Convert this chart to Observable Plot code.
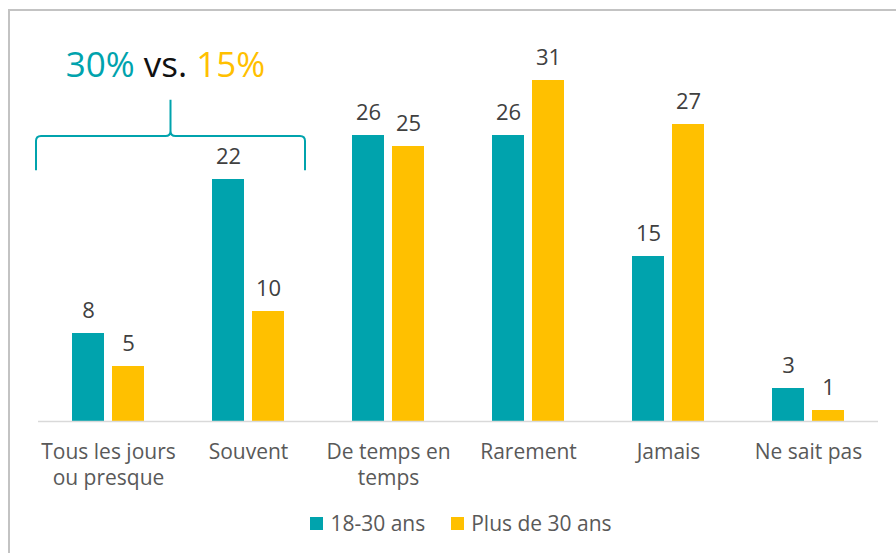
<!DOCTYPE html>
<html>
<head>
<meta charset="utf-8">
<script src="https://cdn.jsdelivr.net/npm/d3@7"></script>
<script src="https://cdn.jsdelivr.net/npm/@observablehq/plot@0.6"></script>
<style>
  html, body { margin: 0; padding: 0; background: #fff; }
  body { width: 896px; height: 553px; position: relative; overflow: hidden; font-family: "Open Sans", sans-serif; }
  #frame { position: absolute; left: 8px; top: 9px; width: 900px; height: 560px; border-left: 2px solid #c3c3c3; border-top: 2px solid #c3c3c3; pointer-events: none; }
  #chart svg { display: block; }
  #legend { height: 53px; box-sizing: border-box; padding-top: 11px; padding-left: 26px; display: flex; justify-content: center; align-items: flex-start; font-size: 21px; line-height: 24px; color: #595959; }
  .item { display: flex; align-items: center; }
  .item + .item { margin-left: 26px; }
  .sw { width: 13px; height: 13px; margin-right: 7px; }
</style>
</head>
<body>
<div id="chart"></div>
<div id="legend"></div>
<div id="frame"></div>
<script>
// ---- data ----
const categories = ["Tous les jours ou presque", "Souvent", "De temps en temps", "Rarement", "Jamais", "Ne sait pas"];
const categoryLabels = ["Tous les jours\nou presque", "Souvent", "De temps en\ntemps", "Rarement", "Jamais", "Ne sait pas"];
const series = ["18-30 ans", "Plus de 30 ans"];
const values1830 = [8, 22, 26, 26, 15, 3];
const valuesPlus30 = [5, 10, 25, 31, 27, 1];
const colors = ["#00A3AD", "#FFC000"];
const annotationParts = ["30%", "vs.", "15%"];

const data = [];
categories.forEach((c, i) => {
  data.push({category: c, series: series[0], value: values1830[i]});
  data.push({category: c, series: series[1], value: valuesPlus30[i]});
});
const labelOf = new Map(categories.map((c, i) => [c, categoryLabels[i]]));

// ---- annotation (brace + "30% vs. 15%") drawn with the scales ----
function braceMark(index, scales) {
  const sx = scales.x, sy = scales.y;
  const bw = typeof sx.bandwidth === "function" ? sx.bandwidth() : 140;
  const L = sx(categories[0]) - 2;
  const R = sx(categories[1]) + bw - 13;
  const M = (L + R) / 2;
  const yLine = sy(25.9), yEnd = sy(22.8), ySpike = sy(29.2), yText = sy(31.3);
  const r = 5;
  const g = d3.create("svg:g");
  const p = d3.path();
  p.moveTo(L, yEnd);
  p.lineTo(L, yLine + r);
  p.quadraticCurveTo(L, yLine, L + r, yLine);
  p.lineTo(M - r, yLine);
  p.quadraticCurveTo(M, yLine, M, yLine - r);
  p.lineTo(M, ySpike);
  p.moveTo(M, yLine - r);
  p.quadraticCurveTo(M, yLine, M + r, yLine);
  p.lineTo(R - r, yLine);
  p.quadraticCurveTo(R, yLine, R, yLine + r);
  p.lineTo(R, yEnd);
  g.append("path").attr("d", p.toString()).attr("fill", "none")
    .attr("stroke", colors[0]).attr("stroke-width", 2);
  const t = g.append("text").attr("x", M - 5).attr("y", yText)
    .attr("text-anchor", "middle").attr("font-size", 35)
    .attr("font-family", "Open Sans, sans-serif");
  t.append("tspan").attr("fill", colors[0]).text(annotationParts[0]);
  t.append("tspan").attr("fill", "#111").text(" " + annotationParts[1] + " ");
  t.append("tspan").attr("fill", colors[1]).text(annotationParts[2]);
  return g.node();
}

const d0 = data.filter(d => d.series === series[0]);
const d1 = data.filter(d => d.series === series[1]);

const chart = Plot.plot({
  width: 896,
  height: 500,
  marginLeft: 38,
  marginRight: 18,
  marginTop: 36,
  marginBottom: 79,
  style: {fontFamily: "Open Sans, sans-serif", background: "transparent"},
  x: {domain: categories, padding: 0, axis: null},
  y: {domain: [0, 35], axis: null},
  color: {domain: series, range: colors},
  marks: [
    Plot.barY(d0, {x: "category", y: "value", fill: "series", insetLeft: 34, insetRight: 74}),
    Plot.barY(d1, {x: "category", y: "value", fill: "series", insetLeft: 74, insetRight: 34}),
    Plot.ruleY([0], {stroke: "#d9d9d9", strokeWidth: 1.5}),
    Plot.text(d0, {x: "category", y: "value", text: d => String(d.value), dx: -20, dy: -16, lineAnchor: "bottom", fontSize: 22, fill: "#404040"}),
    Plot.text(d1, {x: "category", y: "value", text: d => String(d.value), dx: 20, dy: -16, lineAnchor: "bottom", fontSize: 22, fill: "#404040"}),
    Plot.text(categories, {x: d => d, y: () => 0, text: d => labelOf.get(d), dy: 19, lineAnchor: "top", lineHeight: 1.24, fontSize: 21, fill: "#595959"}),
    braceMark
  ]
});
document.getElementById("chart").appendChild(chart);

// ---- legend ----
const legend = document.getElementById("legend");
series.forEach((s, i) => {
  const item = document.createElement("div");
  item.className = "item";
  const sw = document.createElement("span");
  sw.className = "sw";
  sw.style.background = colors[i];
  const lab = document.createElement("span");
  lab.textContent = s;
  item.appendChild(sw);
  item.appendChild(lab);
  legend.appendChild(item);
});
</script>
</body>
</html>
